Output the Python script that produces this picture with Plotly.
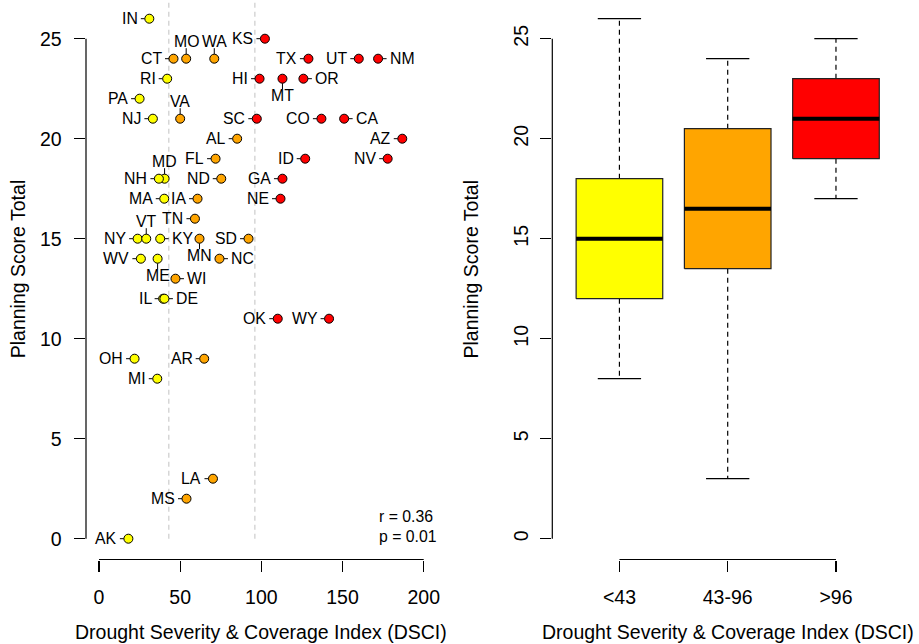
import plotly.graph_objects as go
import numpy as np

# ---------------- data ----------------
states = ["IN", "CT", "MO", "WA", "KS", "RI", "PA", "NJ", "VA", "SC",
          "AL", "HI", "MD", "NH", "FL", "ND", "TX", "UT", "NM", "MT",
          "OR", "CO", "CA", "AZ", "ID", "NV", "GA", "NE", "MA", "IA",
          "TN", "NY", "VT", "KY", "MN", "SD", "WV", "ME", "NC", "WI",
          "IL", "DE", "OK", "WY", "OH", "AR", "MI", "LA", "MS", "AK"]
dsci = [31.0, 45.9, 53.7, 71.0, 102.2, 42.0, 25.0, 33.2, 50.0, 97.2,
        85.1, 98.9, 40.4, 36.9, 71.8, 75.3, 129.0, 160.0, 171.9, 113.0,
        125.9, 137.0, 151.0, 186.8, 127.0, 177.8, 113.0, 111.8, 40.2, 60.7,
        59.1, 23.8, 29.1, 37.7, 61.9, 92.1, 25.8, 36.1, 74.2, 47.1,
        39.5, 40.3, 110.1, 141.7, 21.9, 64.8, 35.9, 70.2, 53.9, 18.1]
score = [26, 24, 24, 24, 25, 23, 22, 21, 21, 21,
         20, 23, 18, 18, 19, 18, 24, 24, 24, 23,
         23, 21, 21, 20, 19, 19, 18, 17, 17, 17,
         16, 15, 15, 15, 15, 15, 14, 14, 14, 13,
         12, 12, 11, 11, 9, 9, 8, 3, 2, 0]

cut_low = 43
cut_high = 96
group_labels = ["<43", "43-96", ">96"]
group_colors = ["#FFFF00", "#FFA500", "#FF0000"]
x_ticks = [0, 50, 100, 150, 200]
y_ticks = [0, 5, 10, 15, 20, 25]
stat_lines = ["r = 0.36", "p = 0.01"]

# label placement (which side of the point the state name goes)
label_right = {"NM", "OR", "CA", "KY", "NC", "WI", "DE"}
label_above = {"MO", "WA", "VA", "MD", "VT"}
label_below = {"MT", "ME", "MN"}

# ---------------- helpers ----------------
def group_of(v):
    if v < cut_low:
        return 0
    if v <= cut_high:
        return 1
    return 2

groups = [group_of(v) for v in dsci]
colors = [group_colors[g] for g in groups]


def fivenum(vals):
    x = np.sort(np.asarray(vals, dtype=float))
    n = len(x)
    n4 = np.floor((n + 3) / 2) / 2
    d = np.array([1, n4, (n + 1) / 2, n + 1 - n4, n]) - 1
    return 0.5 * (x[np.floor(d).astype(int)] + x[np.ceil(d).astype(int)])


FONT = "Liberation Sans, Arial, Helvetica, sans-serif"
W, H = 919, 644

fig = go.Figure()

# ---------------- left: scatter ----------------
for cv in (cut_low, cut_high):
    fig.add_shape(type="line", xref="x", yref="y", x0=cv, x1=cv, y0=0, y1=27,
                  line=dict(color="#d0d0d0", width=1.3, dash="5px,4px"), layer="below")

fig.add_trace(go.Scatter(
    x=dsci, y=score, mode="markers", xaxis="x", yaxis="y",
    marker=dict(size=9, color=colors, line=dict(color="black", width=1)),
    text=states, hoverinfo="text", showlegend=False))

LBL = 15.8
for s, xv, yv in zip(states, dsci, score):
    if s in label_right:
        fig.add_shape(type="line", xref="x", yref="y", xsizemode="pixel",
                      xanchor=xv, x0=4.5, x1=8.5, y0=yv, y1=yv,
                      line=dict(color="black", width=1), layer="below")
        fig.add_annotation(x=xv, y=yv, xref="x", yref="y", text=s, showarrow=False,
                           xanchor="left", yanchor="middle", xshift=11.5, yshift=0.5,
                           borderpad=0, borderwidth=0, font=dict(size=LBL, family=FONT, color="black"))
    elif s in label_above:
        fig.add_shape(type="line", xref="x", yref="y", ysizemode="pixel",
                      yanchor=yv, y0=4.5, y1=10.5, x0=xv, x1=xv,
                      line=dict(color="black", width=1), layer="below")
        fig.add_annotation(x=xv, y=yv, xref="x", yref="y", text=s, showarrow=False,
                           xanchor="center", yanchor="middle", yshift=17.5,
                           borderpad=0, borderwidth=0, font=dict(size=LBL, family=FONT, color="black"))
    elif s in label_below:
        fig.add_shape(type="line", xref="x", yref="y", ysizemode="pixel",
                      yanchor=yv, y0=-4.5, y1=-10.5, x0=xv, x1=xv,
                      line=dict(color="black", width=1), layer="below")
        fig.add_annotation(x=xv, y=yv, xref="x", yref="y", text=s, showarrow=False,
                           xanchor="center", yanchor="middle", yshift=-16.5,
                           borderpad=0, borderwidth=0, font=dict(size=LBL, family=FONT, color="black"))
    else:
        fig.add_shape(type="line", xref="x", yref="y", xsizemode="pixel",
                      xanchor=xv, x0=-4.5, x1=-8.5, y0=yv, y1=yv,
                      line=dict(color="black", width=1), layer="below")
        fig.add_annotation(x=xv, y=yv, xref="x", yref="y", text=s, showarrow=False,
                           xanchor="right", yanchor="middle", xshift=-11.5, yshift=0.5,
                           borderpad=0, borderwidth=0, font=dict(size=LBL, family=FONT, color="black"))

# correlation text
for i, t in enumerate(stat_lines):
    fig.add_annotation(x=379 / W, y=1 - (516.7 + 19.3 * i) / H, xref="paper", yref="paper",
                       text=t, showarrow=False, xanchor="left", yanchor="middle",
                       borderpad=0, borderwidth=0, font=dict(size=LBL, family=FONT, color="black"))

# ---------------- right: boxplot ----------------
BW = 0.4
for gi, (lab, col) in enumerate(zip(group_labels, group_colors)):
    vals = [sc for sc, g in zip(score, groups) if g == gi]
    fn = fivenum(vals)
    q1, med, q3 = fn[1], fn[2], fn[3]
    iqr = q3 - q1
    arr = np.array(vals, dtype=float)
    lo = arr[arr >= q1 - 1.5 * iqr].min()
    hi = arr[arr <= q3 + 1.5 * iqr].max()
    c = gi + 1
    # whiskers
    for a, b in ((q3, hi), (q1, lo)):
        fig.add_trace(go.Scatter(x=[c, c], y=[a, b], mode="lines", xaxis="x2", yaxis="y2",
                                 line=dict(color="black", width=1.2, dash="5px,4px"),
                                 hoverinfo="skip", showlegend=False))
        fig.add_trace(go.Scatter(x=[c - BW / 2, c + BW / 2], y=[b, b], mode="lines",
                                 xaxis="x2", yaxis="y2", line=dict(color="black", width=1.2),
                                 hoverinfo="skip", showlegend=False))
    # box
    fig.add_trace(go.Scatter(x=[c - BW, c + BW, c + BW, c - BW, c - BW],
                             y=[q1, q1, q3, q3, q1], mode="lines", fill="toself",
                             fillcolor=col, xaxis="x2", yaxis="y2",
                             line=dict(color="#222222", width=1.2),
                             hoverinfo="skip", showlegend=False))
    # median
    fig.add_trace(go.Scatter(x=[c - BW, c + BW], y=[med, med], mode="lines",
                             xaxis="x2", yaxis="y2", line=dict(color="black", width=4),
                             hoverinfo="skip", showlegend=False))

# ---------------- axes ----------------
y_bottom_px = 559.5
y_dom = [1 - y_bottom_px / H, 1]
y_range = [-1.04, 538.7 / 20.0]

tickfont = dict(size=19.5, family=FONT, color="black")
common = dict(showgrid=False, zeroline=False, showline=False, ticks="outside",
              ticklen=11.5, tickwidth=1.2, tickcolor="black", tickfont=tickfont,
              fixedrange=True)

fig.update_layout(
    width=W, height=H,
    margin=dict(l=0, r=0, t=0, b=0, autoexpand=False),
    paper_bgcolor="white", plot_bgcolor="white",
    showlegend=False,
    font=dict(family=FONT, color="black"),
    xaxis=dict(domain=[86 / W, 436.7 / W], range=[-8, 208], anchor="y",
               tickvals=x_ticks, ticklabelstandoff=9, **common),
    yaxis=dict(domain=y_dom, range=y_range, anchor="x", tickvals=y_ticks,
               ticklabelstandoff=8, **common),
    xaxis2=dict(domain=[552.3 / W, 903.1 / W], range=[0.38, 3.62], anchor="y2",
                tickvals=[1, 2, 3], ticktext=group_labels, ticklabelstandoff=9, **common),
    yaxis2=dict(domain=y_dom, range=y_range, anchor="x2", tickvals=y_ticks,
                tickangle=-90, ticklabelstandoff=4, **common),
)

# axis lines spanning first..last tick (R style)
axl = dict(color="black", width=1.2)
fig.add_shape(type="line", xref="x", yref="y domain", x0=x_ticks[0], x1=x_ticks[-1], y0=0, y1=0, line=axl)
fig.add_shape(type="line", xref="x domain", yref="y", x0=0, x1=0, y0=y_ticks[0], y1=y_ticks[-1], line=axl)
fig.add_shape(type="line", xref="x2", yref="y2 domain", x0=1, x1=3, y0=0, y1=0, line=axl)
fig.add_shape(type="line", xref="x2 domain", yref="y2", x0=0, x1=0, y0=y_ticks[0], y1=y_ticks[-1], line=axl)

# axis titles
title_font = dict(size=19.5, family=FONT, color="black")
xt = "Drought Severity & Coverage Index (DSCI)"
yt = "Planning Score Total"
fig.add_annotation(x=261.3 / W, y=1 - 631.7 / H, xref="paper", yref="paper", text=xt,
                   showarrow=False, xanchor="center", yanchor="middle", font=title_font)
fig.add_annotation(x=727.7 / W, y=1 - 631.7 / H, xref="paper", yref="paper", text=xt,
                   showarrow=False, xanchor="center", yanchor="middle", font=title_font)
fig.add_annotation(x=18.3 / W, y=1 - 269 / H, xref="paper", yref="paper", text=yt,
                   showarrow=False, xanchor="center", yanchor="middle", textangle=-90, font=title_font)
fig.add_annotation(x=470 / W, y=1 - 268.5 / H, xref="paper", yref="paper", text=yt,
                   showarrow=False, xanchor="center", yanchor="middle", textangle=-90, font=title_font)

fig.write_html("out.html", config={"displayModeBar": False, "staticPlot": True},
               post_script="document.body.style.margin='0px';document.body.style.overflow='hidden';")
